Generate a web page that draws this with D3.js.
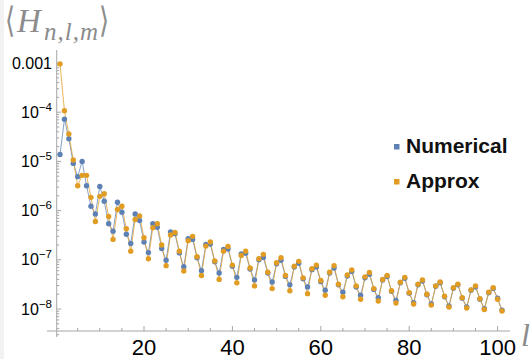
<!DOCTYPE html>
<html>
<head>
<meta charset="utf-8">
<script src="https://cdn.jsdelivr.net/npm/d3@7"></script>
<style>
  body { margin: 0; background: #fff; }
  svg { display: block; }
  .tick-label { font-family: "Liberation Sans", Arial, sans-serif; fill: #000; }
</style>
</head>
<body>
<svg width="531" height="359"></svg>
<script>
var svg = d3.select("svg");

// l = 1 .. 101
var lValues = d3.range(1, 102);

var numerical = [
  1.38e-5, 7.2e-5, 2.9e-5, 9.1e-6, 4.9e-6, 1.0e-5, 3.2e-6, 1.23e-6, 8.5e-7, 3.1e-6,
  1.55e-6, 5.4e-7, 3.8e-7, 1.48e-6, 9.3e-7, 3.3e-7, 2.15e-7, 8.5e-7, 6.3e-7, 2.3e-7,
  1.4e-7, 5.4e-7, 4.6e-7, 1.7e-7, 9.8e-8, 3.7e-7, 3.4e-7, 1.38e-7, 7.2e-8, 2.7e-7,
  2.6e-7, 1.1e-7, 6.0e-8, 2.05e-7, 2.1e-7, 9.1e-8, 5.4e-8, 1.62e-7, 1.66e-7, 7.4e-8,
  4.4e-8, 1.32e-7, 1.35e-7, 6.5e-8, 3.9e-8, 1.0e-7, 1.12e-7, 5.4e-8, 3.55e-8, 8.3e-8,
  9.8e-8, 4.6e-8, 3.1e-8, 7.1e-8, 8.5e-8, 4.1e-8, 2.8e-8, 6.3e-8, 7.1e-8, 3.6e-8,
  2.4e-8, 5.4e-8, 6.8e-8, 3.1e-8, 2.2e-8, 4.7e-8, 5.8e-8, 2.8e-8, 1.9e-8, 4.3e-8,
  5.1e-8, 2.5e-8, 1.7e-8, 3.9e-8, 4.6e-8, 2.3e-8, 1.5e-8, 3.4e-8, 4.2e-8, 2.1e-8,
  1.35e-8, 3.1e-8, 3.7e-8, 1.95e-8, 1.26e-8, 2.9e-8, 3.4e-8, 1.78e-8, 1.15e-8, 2.65e-8,
  3.1e-8, 1.66e-8, 1.1e-8, 2.4e-8, 2.8e-8, 1.58e-8, 1.02e-8, 2.15e-8, 2.6e-8, 1.66e-8,
  9.5e-9
];

var approx = [
  9.6e-4, 1.07e-4, 3.6e-5, 1.07e-5, 3.2e-6, 5.2e-6, 5.2e-6, 1.86e-6, 6.0e-7, 1.95e-6,
  2.2e-6, 7.6e-7, 2.6e-7, 1.05e-6, 1.23e-6, 4.3e-7, 1.5e-7, 6.6e-7, 7.8e-7, 2.8e-7,
  1.05e-7, 4.5e-7, 5.4e-7, 2.0e-7, 7.6e-8, 3.2e-7, 3.6e-7, 1.5e-7, 5.9e-8, 2.45e-7,
  3.0e-7, 1.15e-7, 4.8e-8, 1.9e-7, 2.3e-7, 9.5e-8, 4.0e-8, 1.5e-7, 1.86e-7, 7.8e-8,
  3.4e-8, 1.23e-7, 1.5e-7, 6.8e-8, 2.95e-8, 1.05e-7, 1.29e-7, 5.6e-8, 2.6e-8, 8.7e-8,
  1.1e-7, 4.8e-8, 2.35e-8, 7.4e-8, 9.3e-8, 4.3e-8, 2.05e-8, 6.6e-8, 7.8e-8, 3.8e-8,
  1.9e-8, 5.6e-8, 7.6e-8, 3.2e-8, 1.78e-8, 4.9e-8, 6.2e-8, 2.95e-8, 1.58e-8, 4.5e-8,
  5.5e-8, 2.6e-8, 1.45e-8, 4.0e-8, 4.8e-8, 2.35e-8, 1.32e-8, 3.5e-8, 4.4e-8, 2.15e-8,
  1.26e-8, 3.2e-8, 3.9e-8, 2.0e-8, 1.2e-8, 2.95e-8, 3.55e-8, 1.82e-8, 1.1e-8, 2.7e-8,
  3.2e-8, 1.7e-8, 1.05e-8, 2.45e-8, 2.95e-8, 1.62e-8, 9.8e-9, 2.2e-8, 2.7e-8, 1.58e-8,
  9.1e-9
];

var seriesNames = ["Numerical", "Approx"];
var seriesColors = ["#5e81b5", "#e19c24"];

var xTicksMajor = [20, 40, 60, 80, 100];
var yTicksMajor = [1e-3, 1e-4, 1e-5, 1e-6, 1e-7, 1e-8];

var x = d3.scaleLinear().domain([0, 100]).range([55.6, 497.6]);
var y = d3.scaleLog().domain([1e-3, 1e-8]).range([63, 309]);

var axisColor = "#a6a6a6";
var x0 = x(0.25), yBase = 331;

// faint frame strip on the left
svg.append("rect").attr("x", 0).attr("y", 0).attr("width", 4).attr("height", 359).attr("fill", "#f2f2f2");

// axes lines
svg.append("line").attr("x1", 47).attr("x2", 510).attr("y1", yBase).attr("y2", yBase)
  .attr("stroke", axisColor).attr("stroke-width", 1);
svg.append("line").attr("x1", x0).attr("x2", x0).attr("y1", 50).attr("y2", 337)
  .attr("stroke", axisColor).attr("stroke-width", 1);

// x ticks
var xMinor = d3.range(5, 101, 5).filter(function (d) { return d % 20 !== 0; });
svg.append("g").selectAll("line").data(xMinor).enter().append("line")
  .attr("x1", function (d) { return x(d); }).attr("x2", function (d) { return x(d); })
  .attr("y1", yBase).attr("y2", yBase - 3).attr("stroke", axisColor);
svg.append("g").selectAll("line").data(xTicksMajor).enter().append("line")
  .attr("x1", function (d) { return x(d); }).attr("x2", function (d) { return x(d); })
  .attr("y1", yBase).attr("y2", yBase - 5).attr("stroke", axisColor);
svg.append("g").selectAll("text").data(xTicksMajor).enter().append("text")
  .attr("class", "tick-label")
  .attr("x", function (d) { return x(d); }).attr("y", 355)
  .attr("text-anchor", "middle").attr("font-size", 22)
  .text(function (d) { return d; });

// y ticks
var yMinor = [];
for (var e = -9; e <= -3; e++) {
  for (var k = 2; k <= 9; k++) {
    var v = k * Math.pow(10, e);
    if (y(v) <= yBase + 4 && y(v) >= 50) yMinor.push(v);
  }
}
svg.append("g").selectAll("line").data(yMinor).enter().append("line")
  .attr("x1", x0).attr("x2", x0 + 2.5)
  .attr("y1", function (d) { return y(d); }).attr("y2", function (d) { return y(d); })
  .attr("stroke", axisColor);
svg.append("g").selectAll("line").data(yTicksMajor).enter().append("line")
  .attr("x1", x0).attr("x2", x0 + 4.5)
  .attr("y1", function (d) { return y(d); }).attr("y2", function (d) { return y(d); })
  .attr("stroke", axisColor);

var yl = svg.append("g").selectAll("text").data(yTicksMajor).enter().append("text")
  .attr("class", "tick-label")
  .attr("x", 52).attr("y", function (d) { return y(d) + 5.5; })
  .attr("text-anchor", "end").attr("font-size", 16);
yl.each(function (d) {
  var t = d3.select(this);
  if (d === 1e-3) { t.text("0.001"); return; }
  var p = Math.round(Math.log10(d));
  t.append("tspan").text("10");
  t.append("tspan").attr("dy", -7).attr("font-size", 11.5).text("\u2212" + (-p));
});

// series
var line = d3.line()
  .x(function (d, i) { return x(lValues[i]); })
  .y(function (d) { return y(d); });

[numerical, approx].forEach(function (s, si) {
  svg.append("path").datum(s)
    .attr("fill", "none").attr("stroke", seriesColors[si])
    .attr("stroke-opacity", 0.75).attr("stroke-width", 1)
    .attr("d", line);
});
[numerical, approx].forEach(function (s, si) {
  svg.append("g").selectAll("circle").data(s).enter().append("circle")
    .attr("cx", function (d, i) { return x(lValues[i]); })
    .attr("cy", function (d) { return y(d); })
    .attr("r", 2.7)
    .attr("fill", seriesColors[si]);
});

// legend
var legend = svg.append("g");
seriesNames.forEach(function (name, i) {
  var ly = 153 + i * 35;
  legend.append("rect").attr("x", 394).attr("y", ly - 9).attr("width", 5.5).attr("height", 5.5)
    .attr("fill", seriesColors[i]);
  legend.append("text").attr("x", 406).attr("y", ly)
    .attr("font-family", "'Liberation Sans', Arial, sans-serif")
    .attr("font-weight", "bold").attr("font-size", 21).attr("fill", "#111")
    .text(name);
});

// axis labels
var labelColor = "#8c8c8c";
var serif = "'Liberation Serif', 'Times New Roman', serif";
svg.append("text").attr("transform", "translate(5,32) scale(1,1.35)")
  .attr("font-family", "'DejaVu Serif', serif").attr("font-size", 26)
  .attr("fill", labelColor).text("\u27E8");
svg.append("text").attr("x", 17).attr("y", 32)
  .attr("font-family", serif).attr("font-style", "italic").attr("font-size", 33)
  .attr("fill", labelColor).text("H");
svg.append("text").attr("x", 44).attr("y", 40)
  .attr("font-family", serif).attr("font-style", "italic").attr("font-size", 25)
  .attr("letter-spacing", 1).attr("fill", labelColor).text("n,l,m");
svg.append("text").attr("transform", "translate(99,32) scale(1,1.35)")
  .attr("font-family", "'DejaVu Serif', serif").attr("font-size", 26)
  .attr("fill", labelColor).text("\u27E9");

svg.append("text").attr("x", 521).attr("y", 346)
  .attr("font-family", serif)
  .attr("font-style", "italic").attr("font-size", 32).attr("fill", labelColor)
  .text("l");
</script>
</body>
</html>
